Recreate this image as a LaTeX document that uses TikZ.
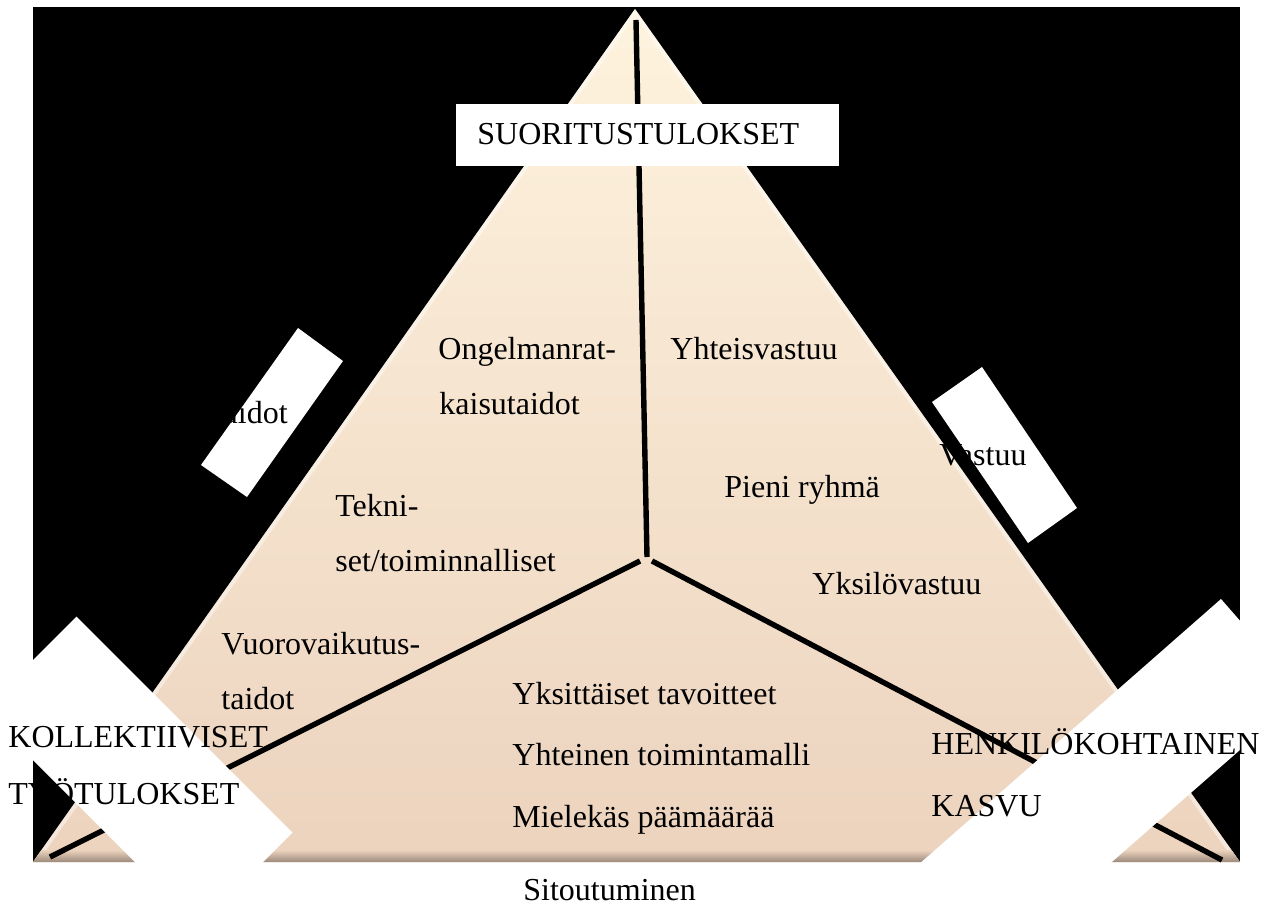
\documentclass[tikz,border=0pt]{standalone}
\usepackage{fontspec}
\setmainfont{Liberation Serif}
\begin{document}
\begin{tikzpicture}[x=0.5pt,y=-0.5pt,
  lbl/.style={anchor=base west,inner sep=0pt,font=\fontsize{16}{19}\selectfont,text=black},
  divider/.style={line width=2.7pt,black},
  band/.style={fill=white,draw=none}]
\useasboundingbox (0,0) rectangle (1270,920);
\fill[white] (0,0) rectangle (1270,920);
\fill[black] (33,7) rectangle (1240,862);
% triangle
\coordinate (apex) at (635,9);
\coordinate (bl) at (33,862);
\coordinate (br) at (1240,862);
\shade[top color={rgb,255:red,254;green,243;blue,222}, bottom color={rgb,255:red,236;green,211;blue,190}] (apex) -- (br) -- (bl) -- cycle;
\begin{scope}
  \clip (apex) -- (br) -- (bl) -- cycle;
  \draw[line width=4pt, white, opacity=0.45] (apex) -- (br) -- (bl) -- cycle;
  \shade[top color={rgb,255:red,236;green,211;blue,190}, bottom color={rgb,255:red,150;green,132;blue,118}] (0,850) rectangle (1270,863);
\end{scope}
% dividers
\coordinate (vtop) at (636,20);
\coordinate (vbot) at (647,557);
\coordinate (lc) at (640,561);
\coordinate (lend) at (50,857);
\coordinate (rc) at (652,561);
\coordinate (rend) at (1222,860);
\draw[divider] (vtop) -- (vbot);
\draw[divider] (lc) -- (lend);
\draw[divider] (rc) -- (rend);
% white boxes
\fill[band] (456,104) rectangle (839,166);
\fill[band] (298,328) -- (343,361) -- (247,497) -- (201,465) -- cycle;
\fill[band] (982,367) -- (1077,508) -- (1028,543) -- (932,402) -- cycle;
\fill[band] (76.5,616.5) -- (292.5,832.5) -- (199,926) -- (-17,710) -- cycle;
\fill[band] (1221,599) -- (1304,694) -- (1034,930) -- (844,930) -- cycle;
% texts
\node[lbl] (taidot) at (206,423) {Taidot};
\node[lbl] (suor) at (477,145) {SUORITUSTULOKSET};
\node[lbl] (ong1) at (438,359) {Ongelmanrat-};
\node[lbl] (ong2) at (439,414) {kaisutaidot};
\node[lbl] (yhv) at (670,359) {Yhteisvastuu};
\node[lbl] (vast) at (939,465) {Vastuu};
\node[lbl] (pieni) at (724,497) {Pieni ryhmä};
\node[lbl] (tek1) at (335,516) {Tekni-};
\node[lbl] (tek2) at (335,571) {set/toiminnalliset};
\node[lbl] (yksv) at (812,594) {Yksilövastuu};
\node[lbl] (vuo1) at (221,654) {Vuorovaikutus-};
\node[lbl] (vuo2) at (221,709) {taidot};
\node[lbl] (yt1) at (512,704) {Yksittäiset tavoitteet};
\node[lbl] (yt2) at (512,765) {Yhteinen toimintamalli};
\node[lbl] (yt3) at (512,827) {Mielekäs päämäärää};
\node[lbl] (kol1) at (8,747) {KOLLEKTIIVISET};
\node[lbl] (kol2) at (8,804) {TYÖTULOKSET};
\node[lbl] (hen1) at (931,754) {HENKILÖKOHTAINEN};
\node[lbl] (hen2) at (931,816) {KASVU};
\node[lbl] (sit) at (523,900) {Sitoutuminen};
\end{tikzpicture}
\end{document}
